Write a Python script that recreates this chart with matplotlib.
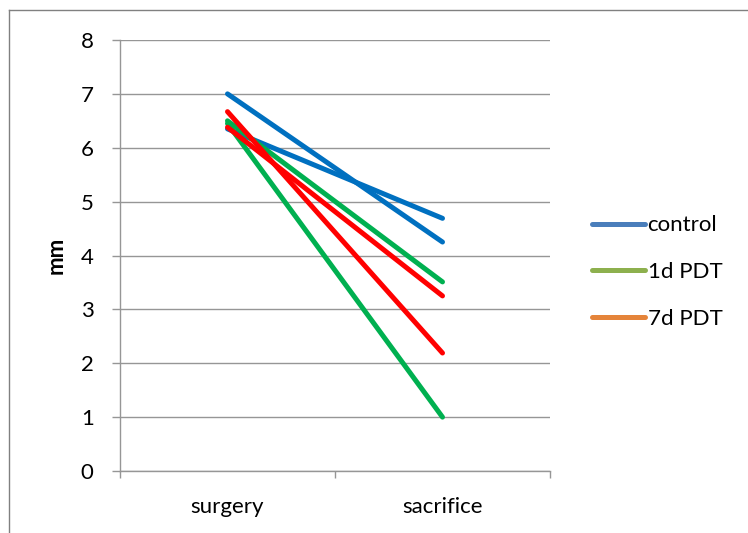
import matplotlib.pyplot as plt
from matplotlib.lines import Line2D

categories = ["surgery", "sacrifice"]
control = [[7.0, 4.25], [6.35, 4.69]]
pdt_1d = [[6.5, 3.51], [6.45, 1.0]]
pdt_7d = [[6.67, 2.19], [6.38, 3.25]]
legend_labels = ["control", "1d PDT", "7d PDT"]

line_colors = ["#0070C0", "#00B050", "#FF0000"]
legend_colors = ["#4A7EBB", "#8DB04E", "#E5843A"]
grid_color = "#969696"

plt.rcParams['font.family'] = ['Lato', 'DejaVu Sans']

fig = plt.figure(figsize=(7.48, 5.33), dpi=100)
# chart area border (only top and left edges are inside the picture)
fig.add_artist(Line2D([9 / 748, 9 / 748], [0, 1 - 10 / 533],
                      transform=fig.transFigure, color="#808080", linewidth=1.0))
fig.add_artist(Line2D([9 / 748, 1], [1 - 10 / 533, 1 - 10 / 533],
                      transform=fig.transFigure, color="#808080", linewidth=1.0))
ax = fig.add_axes([120 / 748, 1 - 471 / 533, 430 / 748, 431 / 533])

x = [0.5, 1.5]
for group, color in zip([control, pdt_1d, pdt_7d], line_colors):
    for series in group:
        ax.plot(x, series, color=color, linewidth=3.6, solid_capstyle="round")

ax.set_xlim(0, 2)
ax.set_ylim(0, 8)
ax.set_yticks(range(0, 9))
ax.set_xticks([0, 1, 2])
ax.set_xticklabels([])
ax.set_xticks(x, minor=True)
ax.set_xticklabels(categories, minor=True, fontsize=16)
ax.tick_params(axis="x", which="minor", length=0, pad=19)
ax.tick_params(axis="x", which="major", length=5, color=grid_color, width=1)
ax.tick_params(axis="y", length=6, color=grid_color, width=1, labelsize=16, pad=13)
ax.yaxis.grid(True, color=grid_color, linewidth=1)
ax.set_axisbelow(True)
for side in ["top", "right"]:
    ax.spines[side].set_visible(False)
for side in ["left", "bottom"]:
    ax.spines[side].set_color(grid_color)
    ax.spines[side].set_linewidth(1)
ax.set_ylabel("mm", fontsize=16, fontweight="bold", labelpad=10)

handles = [Line2D([0], [0], color=c, linewidth=3.6, solid_capstyle="round")
           for c in legend_colors]
fig.legend(handles, legend_labels, loc="center left",
           bbox_to_anchor=(572 / 748, 1 - 272 / 533), frameon=False,
           fontsize=16, handlelength=2.4, handletextpad=0.1,
           labelspacing=1.2)

fig.savefig("out.png", dpi=100)
